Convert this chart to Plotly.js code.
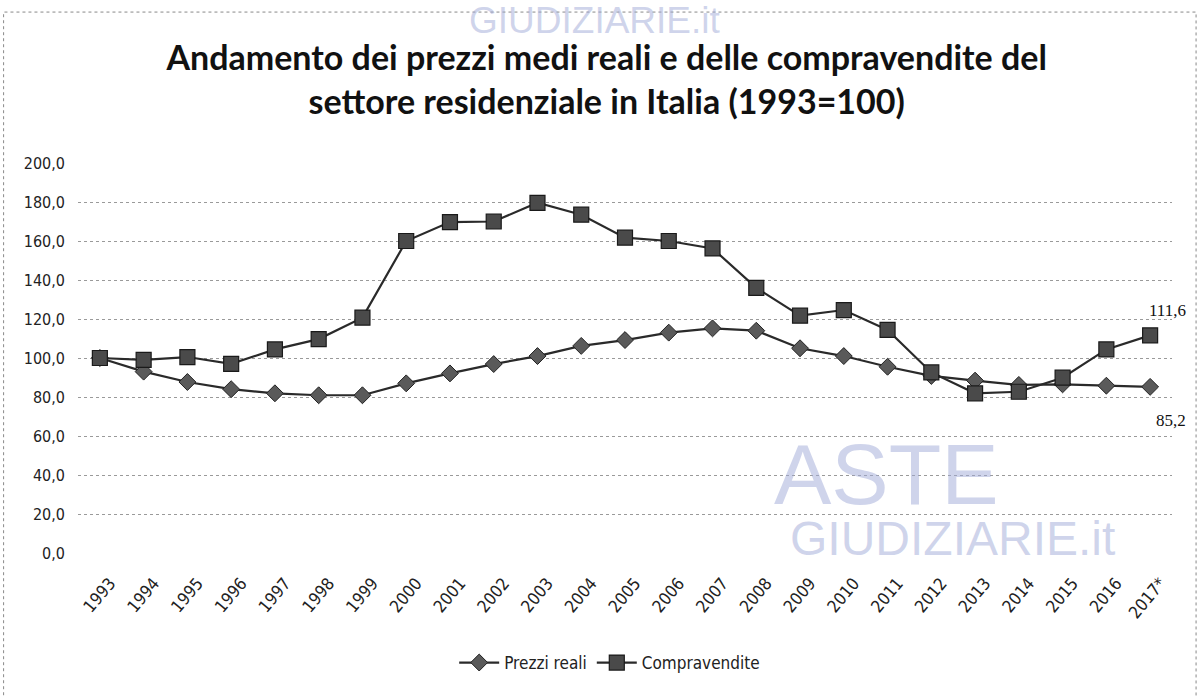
<!DOCTYPE html>
<html><head><meta charset="utf-8">
<script src="https://cdn.plot.ly/plotly-3.0.1.min.js"></script>
<style>body{margin:0;background:#fff}#c{width:1199px;height:697px}</style>
</head><body><div id="c"></div>
<script>
const years = ['1993','1994','1995','1996','1997','1998','1999','2000','2001','2002','2003','2004','2005','2006','2007','2008','2009','2010','2011','2012','2013','2014','2015','2016','2017*'];
const prezziReali = [100,93,87.7,84,81.9,80.9,80.9,87,92.1,96.9,101,106.2,109.2,113,115.2,114,105,101,95.5,90.8,88.4,86.2,86.5,85.8,85.2];
const compravendite = [100,99,100.5,97,104.4,109.7,120.7,160,169.7,170,179.6,173.5,161.7,160,156.2,136,121.7,124.6,114.4,92.6,81.9,82.7,89.9,104.4,111.6];
const yTicks = [0,20,40,60,80,100,120,140,160,180,200];

const FONT = 'Liberation Sans Narrow, DejaVu Sans Condensed, Arial Narrow, sans-serif';
const lineCol = '#2a2a2a';
const wm = 'rgba(160,170,215,0.5)';

const traces = [
  {x: years, y: prezziReali, name: 'Prezzi reali', type: 'scatter', mode: 'lines+markers',
   line: {color: lineCol, width: 2.2},
   marker: {symbol: 'diamond', size: 13, color: '#5a5a5a', line: {color: '#222', width: 1}}},
  {x: years, y: compravendite, name: 'Compravendite', type: 'scatter', mode: 'lines+markers',
   line: {color: lineCol, width: 2.2},
   marker: {symbol: 'square', size: 15, color: '#4a4a4a', line: {color: '#1a1a1a', width: 1.2}}}
];

const last = years.length - 1;
const wmText = (x, y, text, size) => ({xref: 'paper', yref: 'paper', x: x, y: y, text: text, showarrow: false,
  xanchor: 'center', yanchor: 'middle', font: {family: 'Liberation Sans, sans-serif', size: size, color: wm}});

const layout = {
  width: 1199, height: 697,
  paper_bgcolor: '#fff', plot_bgcolor: '#fff',
  separators: ', ',
  margin: {l: 78, r: 27, t: 163, b: 144, autoexpand: false},
  title: {text: '<b>Andamento dei prezzi medi reali e delle compravendite del<br>settore residenziale in Italia (1993=100)</b>',
          font: {family: 'Lato, Open Sans, sans-serif', size: 34, color: '#111'},
          x: 0.506, xanchor: 'center', yref: 'container', y: 1 - 70/697, yanchor: 'top'},
  showlegend: true,
  legend: {orientation: 'h', x: 0.486, xanchor: 'center', y: -0.282, yanchor: 'middle', itemwidth: 40,
           font: {family: FONT, size: 17, color: '#222'}, bgcolor: 'rgba(0,0,0,0)'},
  xaxis: {type: 'category', range: [-0.5, 24.5], showgrid: false, zeroline: false, automargin: false,
          showline: false, ticks: '', tickangle: -50, ticklabelstandoff: 16, ticklabelshift: 10,
          tickfont: {family: FONT, size: 17, color: '#222'}},
  yaxis: {range: [0, 200], tickvals: yTicks, tickformat: '.1f', automargin: false,
          showgrid: true, gridcolor: '#9a9a9a', griddash: 'dot', gridwidth: 1,
          zeroline: false, showline: false, ticks: '', ticklabelstandoff: 12,
          tickfont: {family: FONT, size: 16, color: '#222'}},
  shapes: [
    {type: 'rect', xref: 'paper', yref: 'paper', x0: -0.068, x1: 1.022, y0: -0.4, y1: 1.387,
     line: {color: '#888', width: 1, dash: 'dot'}}
  ],
  annotations: [
    {x: years[last], y: compravendite[last], text: '111,6', showarrow: false, yshift: 25, xshift: 17,
     font: {family: 'Liberation Serif, serif', size: 17, color: '#111'}},
    {x: years[last], y: prezziReali[last], text: '85,2', showarrow: false, yshift: -34, xshift: 21,
     font: {family: 'Liberation Serif, serif', size: 17, color: '#111'}},
    wmText(0.739, 0.203, 'ASTE', 86),
    wmText(0.799, 0.036, 'GIUDIZIARIE.it', 48),
    wmText(0.473, (553 - 21) / 390, 'GIUDIZIARIE.it', 37)
  ]
};

Plotly.newPlot('c', traces, layout, {displayModeBar: false, staticPlot: true});
</script></body></html>
